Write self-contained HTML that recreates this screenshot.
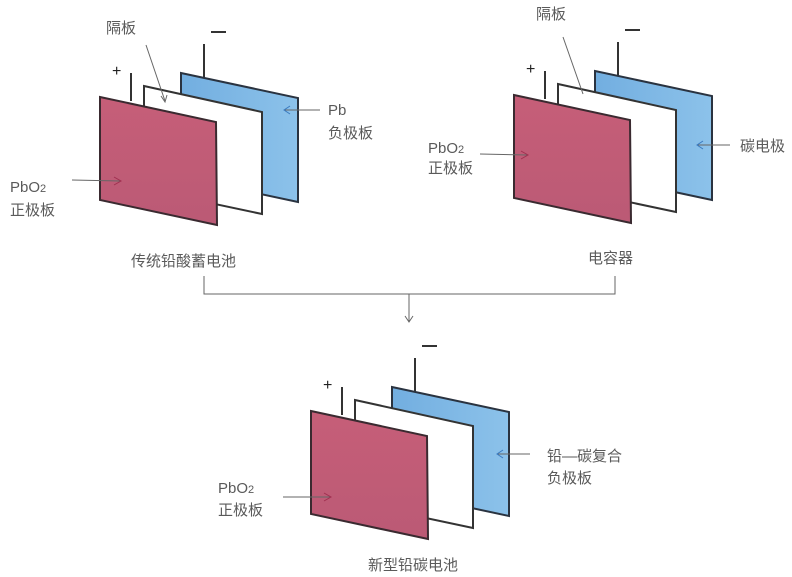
<!DOCTYPE html>
<html><head><meta charset="utf-8"><style>
html,body{margin:0;padding:0;background:#fff;}
svg{display:block;}
text{font-family:"Liberation Sans","Noto Sans CJK SC",sans-serif;fill:#5a5a5a;font-size:15px;}
</style></head><body>
<svg width="792" height="577" viewBox="0 0 792 577" xmlns="http://www.w3.org/2000/svg">
<defs>
<linearGradient id="bl" x1="0" y1="0" x2="1" y2="0"><stop offset="0" stop-color="#72aee0"/><stop offset="1" stop-color="#8cc2ea"/></linearGradient>
<linearGradient id="rd" x1="0" y1="0" x2="0" y2="1"><stop offset="0" stop-color="#c65e78"/><stop offset="1" stop-color="#bb5a75"/></linearGradient>
<g id="cell">
  <line x1="204" y1="44" x2="204" y2="78" stroke="#333" stroke-width="2"/>
  <polygon points="181,73 298,98 298,202 181,177" fill="url(#bl)" stroke="#2a3340" stroke-width="2"/>
  <polygon points="144,86 262,112 262,214 144,189" fill="#fff" stroke="#333" stroke-width="2"/>
  <line x1="131" y1="73" x2="131" y2="101" stroke="#333" stroke-width="2"/>
  <polygon points="100,97 216,122 217,225 100,200" fill="url(#rd)" stroke="#3a2a30" stroke-width="2"/>
  <text x="112" y="76" style="font-size:16px;fill:#222">+</text>
  <line x1="211" y1="32" x2="226" y2="32" stroke="#333" stroke-width="2"/>
</g>
</defs>
<use href="#cell"/>
<use href="#cell" transform="translate(414,-2)"/>
<use href="#cell" transform="translate(211,314)"/>

<g stroke="#666" stroke-width="1" fill="none">
  <!-- left group -->
  <line x1="146" y1="45" x2="165" y2="101"/><path d="M161,96 L165,102 L167,95"/>
  <line x1="320" y1="110" x2="285" y2="110"/><path d="M290,106 L284,110 L290,114" stroke="#3a7ac0"/>
  <line x1="72" y1="180" x2="120" y2="181"/><path d="M114,177 L121,181 L114,185" stroke="#a03050"/>
  <!-- right group -->
  <line x1="563" y1="37" x2="583" y2="94"/>
  <line x1="730" y1="145" x2="698" y2="145"/><path d="M703,141 L697,145 L703,149" stroke="#3a7ac0"/>
  <line x1="480" y1="154" x2="527" y2="155"/><path d="M521,151 L528,155 L521,159" stroke="#a03050"/>
  <!-- bottom group -->
  <line x1="530" y1="454" x2="498" y2="454"/><path d="M503,450 L497,454 L503,458" stroke="#3a7ac0"/>
  <line x1="283" y1="497" x2="330" y2="497"/><path d="M324,493 L331,497 L324,501" stroke="#a03050"/>
  <!-- connector -->
  <path d="M204,276 L204,294 L615,294 L615,276"/>
  <line x1="409" y1="294" x2="409" y2="322"/><path d="M405,316 L409,322 L413,316"/>
</g>

<text x="106" y="33">隔板</text>
<text x="328" y="115">Pb</text>
<text x="328" y="138">负极板</text>
<text x="10" y="192">PbO<tspan style="font-size:11px">2</tspan></text>
<text x="10" y="215">正极板</text>
<text x="131" y="266">传统铅酸蓄电池</text>

<text x="536" y="19">隔板</text>
<text x="740" y="151">碳电极</text>
<text x="428" y="153">PbO<tspan style="font-size:11px">2</tspan></text>
<text x="428" y="173">正极板</text>
<text x="588" y="263">电容器</text>

<text x="547" y="461">铅—碳复合</text>
<text x="547" y="483">负极板</text>
<text x="218" y="493">PbO<tspan style="font-size:11px">2</tspan></text>
<text x="218" y="515">正极板</text>
<text x="368" y="570">新型铅碳电池</text>
</svg>
</body></html>
